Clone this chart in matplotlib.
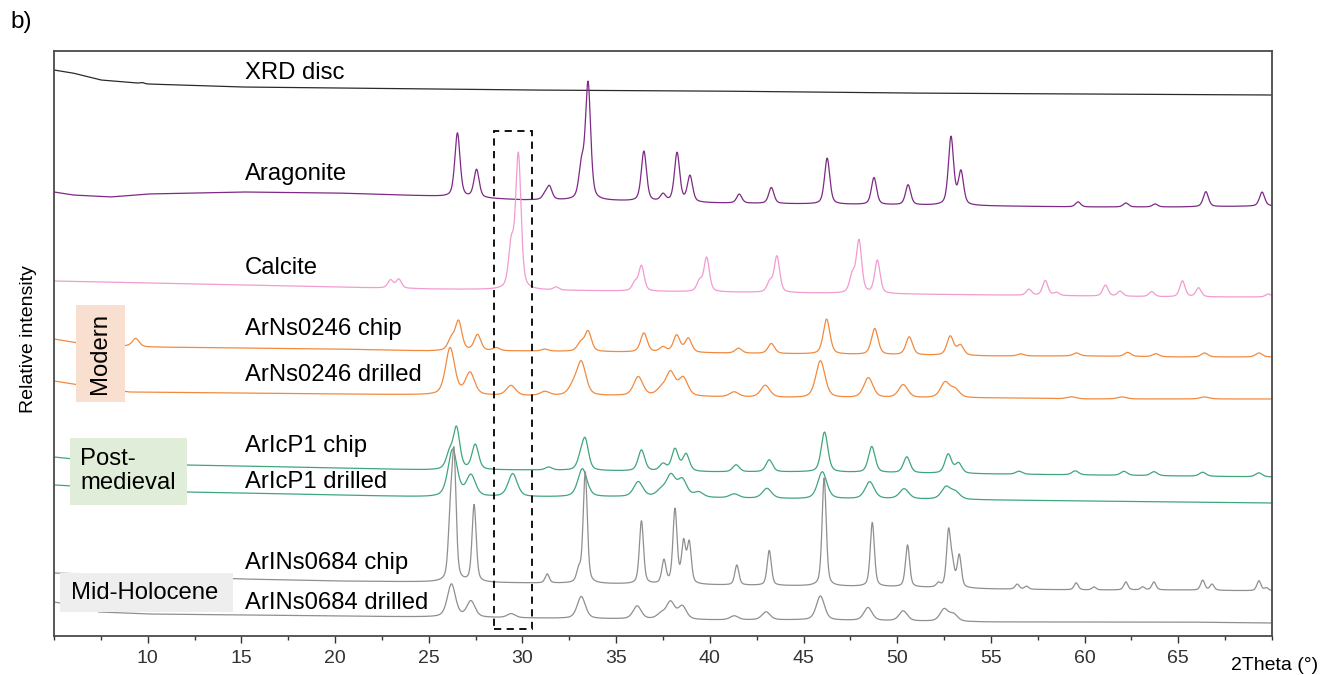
import numpy as np
import matplotlib
matplotlib.use("Agg")
import matplotlib.pyplot as plt
from matplotlib.patches import Rectangle
from matplotlib.ticker import MultipleLocator

plt.rcParams["font.family"] = ["Liberation Sans", "DejaVu Sans"]

# ---- data (2Theta in degrees, intensity in arbitrary stacked units) ----
# baselines: knots (x, y)
disc_bx = [5, 6, 7.5, 10, 15, 20, 30, 40, 50, 60, 70]
disc_by = [566, 563, 556, 552, 549, 548, 546, 545, 543, 542, 541]
arag_bx = [5, 6, 8, 10, 15, 20, 25, 30, 35, 40, 45, 50, 55, 60, 65, 70]
arag_by = [444, 441, 439, 442, 444, 443, 440, 436, 435, 433, 432, 431, 430, 429, 429, 430]
calc_bx = [5, 10, 15, 20, 25, 30, 35, 40, 45, 50, 55, 60, 65, 70]
calc_by = [355, 353, 351, 349, 347, 346, 345, 344, 343, 342, 341, 340, 339, 339]
mchip_bx = [5, 6, 7, 9, 10, 15, 20, 25, 30, 35, 40, 45, 50, 55, 60, 65, 70]
mchip_by = [297, 294, 290, 290, 289, 288, 287, 285, 285, 284, 283, 282, 281, 280, 280, 279, 279]
mdrill_bx = [5, 6, 7, 9, 15, 20, 25, 30, 35, 40, 45, 50, 55, 60, 65, 70]
mdrill_by = [255, 252, 249, 244, 243, 242, 241, 240, 240, 239, 238, 238, 238, 237, 237, 237]
pchip_bx = [5, 6, 12, 15, 20, 25, 30, 35, 40, 45, 50, 55, 60, 65, 70]
pchip_by = [179, 177, 171, 170, 168, 166, 166, 165, 164, 164, 163, 162, 161, 160, 159]
pdrill_bx = [5, 12, 15, 20, 25, 30, 35, 40, 45, 50, 55, 60, 65, 70]
pdrill_by = [151, 144, 143, 141, 139, 139, 139, 138, 137, 137, 136, 135, 134, 133]
hchip_bx = [5, 15, 20, 25, 30, 35, 40, 45, 50, 55, 60, 65, 70]
hchip_by = [63, 57, 55, 54, 53, 52, 51, 50, 49, 47, 46, 46, 45]
hdrill_bx = [5, 6, 7.4, 10, 15, 20, 25, 30, 35, 40, 45, 50, 55, 60, 65, 70]
hdrill_by = [34, 31, 24, 22, 21, 20, 19, 18, 17, 16, 16, 15, 14, 14, 14, 13]

# peaks: position, height, fwhm
disc_pos = [9.7]
disc_h = [1]
disc_w = 0.25
arag_pos = [26.53, 27.55, 31.2, 31.44, 33.15, 33.5, 36.48, 37.5, 38.25, 38.94, 41.57, 43.28,
            46.26, 48.76, 50.58, 52.87, 53.4, 59.65, 62.2, 63.76, 66.47, 69.47]
arag_h = [64, 28, 5, 13, 32, 116, 50, 7, 49, 26, 9, 16, 46, 27, 20, 68, 33, 5, 4, 3, 15, 14]
arag_w = 0.33
calc_pos = [22.96, 23.4, 29.4, 29.78, 31.8, 36.0, 36.35, 39.45, 39.83, 43.2, 43.58, 47.6, 47.96,
            48.94, 57.03, 57.9, 58.5, 61.11, 61.9, 63.58, 65.22, 66.08, 69.8]
calc_h = [8, 9, 42, 134, 3, 8, 25, 10, 34, 10, 36, 17, 52, 33, 6, 15, 3, 11, 5, 5, 16, 9, 3]
calc_w = 0.34
mchip_pos = [9.36, 26.2, 26.59, 27.6, 28.6, 31.2, 33.1, 33.5, 36.48, 37.5, 38.23, 38.85, 41.53,
             43.28, 46.23, 48.8, 50.64, 52.83, 53.37, 56.6, 59.56, 62.3, 63.8, 66.4, 69.3]
mchip_h = [8, 11, 29, 16, 3, 2, 8, 20, 19, 5, 17, 14, 5, 10, 35, 26, 18, 19, 10, 2, 3, 4, 3, 4, 4]
mchip_w = 0.42
mdrill_pos = [26.14, 27.2, 29.39, 31.2, 32.7, 33.14, 36.18, 37.4, 37.9, 38.58, 41.3, 42.96,
              45.9, 48.46, 50.32, 52.55, 53.08, 59.3, 62.0, 66.4]
mdrill_h = [47, 22, 10, 4, 8, 33, 19, 6, 23, 18, 5, 12, 37, 20, 13, 15, 8, 2, 2, 2]
mdrill_w = 0.58
pchip_pos = [26.1, 26.48, 27.48, 31.4, 33.1, 33.35, 36.35, 37.5, 38.14, 38.73, 41.4, 43.17,
             46.12, 48.64, 50.51, 52.72, 53.27, 56.5, 59.5, 62.1, 63.7, 66.3, 69.3]
pchip_h = [15, 41, 25, 3, 10, 29, 21, 7, 22, 17, 7, 12, 40, 26, 16, 19, 10, 3, 4, 4, 4, 4, 4]
pchip_w = 0.42
pdrill_pos = [26.27, 27.25, 29.48, 33.2, 36.18, 37.4, 37.92, 38.53, 39.4, 41.3, 43.05, 46.0,
              48.53, 50.37, 52.6, 53.1]
pdrill_h = [47, 21, 23, 28, 15, 6, 21, 17, 5, 4, 10, 27, 17, 10, 12, 7]
pdrill_w = 0.58
hchip_pos = [26.15, 26.35, 27.42, 31.32, 33.0, 33.35, 36.35, 37.55, 38.14, 38.6, 38.9, 41.44,
             43.17, 46.1, 48.67, 50.55, 52.2, 52.74, 52.95, 53.31, 56.4, 56.9, 59.55, 60.5,
             62.2, 63.1, 63.7, 66.3, 66.8, 69.3, 69.7]
hchip_h = [58, 120, 77, 9, 12, 111, 63, 23, 74, 40, 40, 20, 35, 108, 64, 42, 4, 55, 19, 32,
           5, 3, 7, 3, 8, 3, 8, 10, 6, 10, 3]
hchip_w = 0.26
hdrill_pos = [26.21, 27.25, 29.4, 33.14, 36.12, 37.4, 37.9, 38.53, 41.3, 43.0, 45.9, 48.44,
              50.32, 52.5, 53.0]
hdrill_h = [33, 16, 4, 22, 13, 5, 17, 13, 4, 8, 24, 13, 10, 12, 7]
hdrill_w = 0.52

names = ["XRD disc", "Aragonite", "Calcite", "ArNs0246 chip", "ArNs0246 drilled",
         "ArIcP1 chip", "ArIcP1 drilled", "ArINs0684 chip", "ArINs0684 drilled"]
label_y = [563, 462, 368, 307, 261, 190, 154, 73, 33]
colors = ["#2a2a2a", "#7d2a86", "#f29bd0", "#f28a3e", "#f28a3e",
          "#3fa67c", "#3fa67c", "#8f8f8f", "#8f8f8f"]


def pattern(x, bx, by, pos, h, w, eta=0.45):
    y = np.interp(x, bx, by).astype(float)
    for p, a in zip(pos, h):
        d2 = 4 * (x - p) ** 2 / w ** 2
        y += a * (eta / (1 + d2) + (1 - eta) * np.exp(-np.log(2) * d2))
    return y


x = np.linspace(5, 70, 6501)
traces = [
    (disc_bx, disc_by, disc_pos, disc_h, disc_w),
    (arag_bx, arag_by, arag_pos, arag_h, arag_w),
    (calc_bx, calc_by, calc_pos, calc_h, calc_w),
    (mchip_bx, mchip_by, mchip_pos, mchip_h, mchip_w),
    (mdrill_bx, mdrill_by, mdrill_pos, mdrill_h, mdrill_w),
    (pchip_bx, pchip_by, pchip_pos, pchip_h, pchip_w),
    (pdrill_bx, pdrill_by, pdrill_pos, pdrill_h, pdrill_w),
    (hchip_bx, hchip_by, hchip_pos, hchip_h, hchip_w),
    (hdrill_bx, hdrill_by, hdrill_pos, hdrill_h, hdrill_w),
]

fig = plt.figure(figsize=(13.23, 6.75), dpi=100)
ax = fig.add_axes([54 / 1323, 1 - 636 / 675, 1218 / 1323, 585 / 675])

for (bx, by, pos, h, w), name, ly, c in zip(traces, names, label_y, colors):
    ax.plot(x, pattern(x, bx, by, pos, h, w), color=c, lw=0.9, zorder=2)
    ax.text(15.2, ly, name, fontsize=17.2, va="center", ha="left", zorder=5)

# group boxes
ax.add_patch(Rectangle((6.2, 234), 2.57, 97, facecolor="#f9dfd0", edgecolor="none", zorder=3))
ax.text(7.45, 283, "Modern", rotation=90, fontsize=17.2, ha="center", va="center", zorder=4)
ax.add_patch(Rectangle((5.88, 131), 6.21, 67, facecolor="#e0edd8", edgecolor="none", zorder=3))
ax.text(6.4, 165, "Post-\nmedieval", fontsize=17.2, ha="left", va="center",
        linespacing=1.1, zorder=4)
ax.add_patch(Rectangle((5.34, 24), 9.21, 39, facecolor="#eeeeee", edgecolor="none", zorder=3))
ax.text(5.9, 43, "Mid-Holocene", fontsize=17.2, ha="left", va="center", zorder=4)

# dashed box around the calcite main peak
ax.add_patch(Rectangle((28.5, 7), 2.0, 498, facecolor="none", edgecolor="black",
                       lw=1.3, linestyle=(0, (4, 3)), zorder=6))

ax.set_xlim(5, 70)
ax.set_ylim(0, 585)
ax.xaxis.set_minor_locator(MultipleLocator(2.5))
ax.set_xticks([10, 15, 20, 25, 30, 35, 40, 45, 50, 55, 60, 65])
ax.set_yticks([])
ax.tick_params(axis="x", which="major", direction="out", length=5, width=1.0,
               labelsize=14, pad=5, colors="#333333")
ax.tick_params(axis="x", which="minor", direction="out", length=3, width=1.0, colors="#333333")
for s in ax.spines.values():
    s.set_color("#4a4a4a")
    s.set_linewidth(1.3)

fig.text(1231 / 1323, 1 - 665 / 675, "2Theta (°)", fontsize=14, ha="left", va="center")
fig.text(29 / 1323, 1 - 339 / 675, "Relative intensity", fontsize=14, rotation=90,
         ha="center", va="center")
fig.text(10 / 1323, 1 - 22 / 675, "b)", fontsize=17.5, ha="left", va="center")

fig.savefig("out.png", dpi=100)
